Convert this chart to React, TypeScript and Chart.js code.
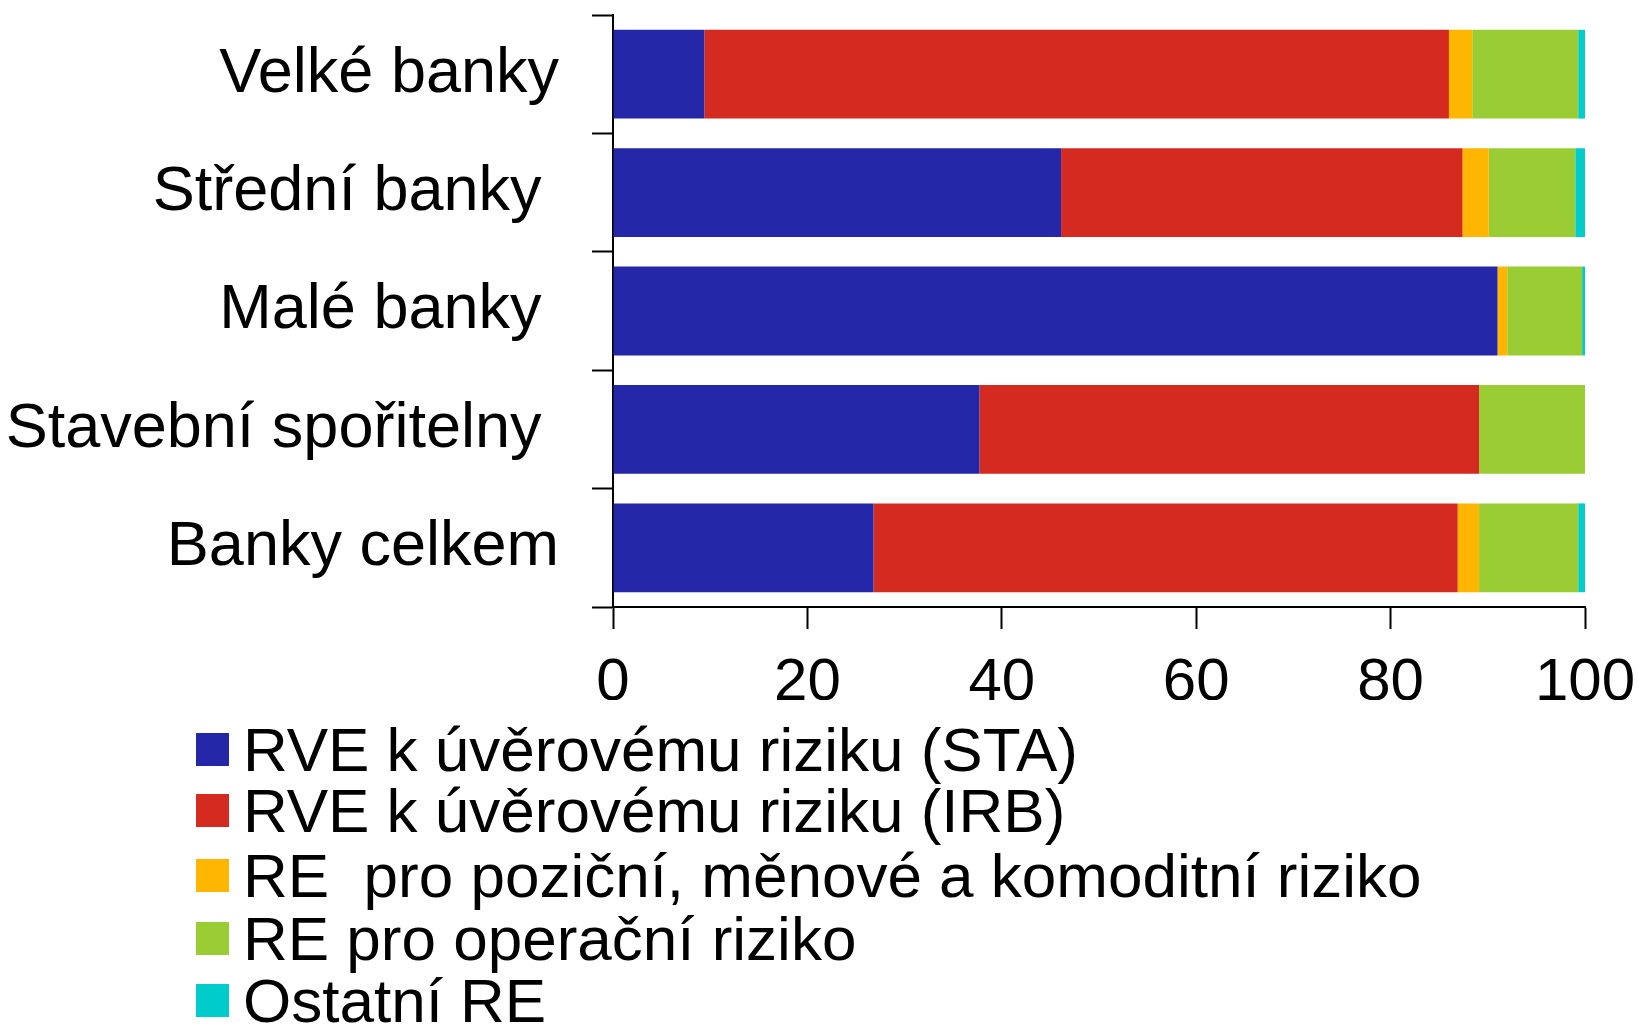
import React, { useEffect, useRef } from "react";
import { Chart, registerables } from "chart.js";

Chart.register(...registerables);

const categories = ["Velké banky", "Střední banky ", "Malé banky ", "Stavební spořitelny ", "Banky celkem"];
const seriesNames = [
  "RVE k úvěrovému riziku (STA)",
  "RVE k úvěrovému riziku (IRB)",
  "RE  pro poziční, měnové a komoditní riziko",
  "RE pro operační riziko",
  "Ostatní RE",
];
const staValues = [9.4, 46.1, 91.0, 37.7, 26.8];
const irbValues = [76.6, 41.3, 0, 51.4, 60.1];
const marketValues = [2.4, 2.7, 1.0, 0, 2.2];
const operationalValues = [10.9, 8.9, 7.7, 10.9, 10.2];
const otherValues = [0.7, 1.0, 0.3, 0, 0.7];
const xTicks = [0, 20, 40, 60, 80, 100];

const colors = ["#2427A7", "#D42A1F", "#FFB600", "#9ACC33", "#00CCCC"];

export default function App() {
  const canvasRef = useRef<HTMLCanvasElement | null>(null);

  useEffect(() => {
    if (!canvasRef.current) return;
    const seriesValues = [staValues, irbValues, marketValues, operationalValues, otherValues];
    const chart = new Chart(canvasRef.current, {
      type: "bar",
      data: {
        labels: categories,
        datasets: seriesNames.map((name, i) => ({
          label: name,
          data: seriesValues[i],
          backgroundColor: colors[i],
          borderWidth: 0,
          barPercentage: 0.75,
          categoryPercentage: 1,
        })),
      },
      options: {
        indexAxis: "y",
        animation: false,
        responsive: true,
        maintainAspectRatio: false,
        layout: { padding: { top: 15, right: 54, bottom: 0, left: 0 } },
        plugins: {
          legend: { display: false },
          tooltip: { enabled: false },
        },
        scales: {
          x: {
            stacked: true,
            min: 0,
            max: 100,
            afterBuildTicks: (scale: any) => {
              scale.ticks = xTicks.map((v) => ({ value: v }));
            },
            afterFit: (scale: any) => {
              scale.height = 93;
              scale.paddingLeft = 0;
              scale.paddingRight = 0;
            },
            grid: {
              drawOnChartArea: false,
              drawTicks: true,
              tickLength: 22,
              tickColor: "#000",
              tickWidth: 2,
            },
            border: { display: true, color: "#000", width: 2 },
            ticks: {
              color: "#000",
              padding: 18,
              font: { family: "'Liberation Sans', Arial, sans-serif", size: 60 },
              maxRotation: 0,
            },
          },
          y: {
            stacked: true,
            afterFit: (scale: any) => {
              scale.width = 613;
              scale.paddingTop = 0;
              scale.paddingBottom = 0;
            },
            grid: {
              offset: true,
              drawOnChartArea: false,
              drawTicks: true,
              tickLength: 21,
              tickColor: "#000",
              tickWidth: 2,
            },
            border: { display: true, color: "#000", width: 2 },
            ticks: {
              color: "#000",
              padding: 33,
              font: { family: "'Liberation Sans', Arial, sans-serif", size: 63 },
            },
          },
        },
      },
    });
    return () => chart.destroy();
  }, []);

  const legendTops = [750, 811, 876, 939, 1001];

  return (
    <div
      style={{
        position: "absolute",
        left: 0,
        top: 0,
        width: 1639,
        height: 1028,
        background: "#fff",
        overflow: "hidden",
      }}
    >
      <div style={{ position: "absolute", left: 0, top: 0, width: 1639, height: 700 }}>
        <canvas ref={canvasRef} />
      </div>
      {seriesNames.map((name, i) => (
        <div
          key={name}
          style={{
            position: "absolute",
            left: 196,
            top: legendTops[i] - 36,
            height: 70,
            display: "flex",
            alignItems: "center",
            fontFamily: "'Liberation Sans', Arial, sans-serif",
            fontSize: 62,
            color: "#000",
            whiteSpace: "pre",
          }}
        >
          <span
            style={{
              display: "inline-block",
              width: 33,
              height: 33,
              background: colors[i],
              marginRight: 14,
            }}
          />
          <span>{name}</span>
        </div>
      ))}
    </div>
  );
}
